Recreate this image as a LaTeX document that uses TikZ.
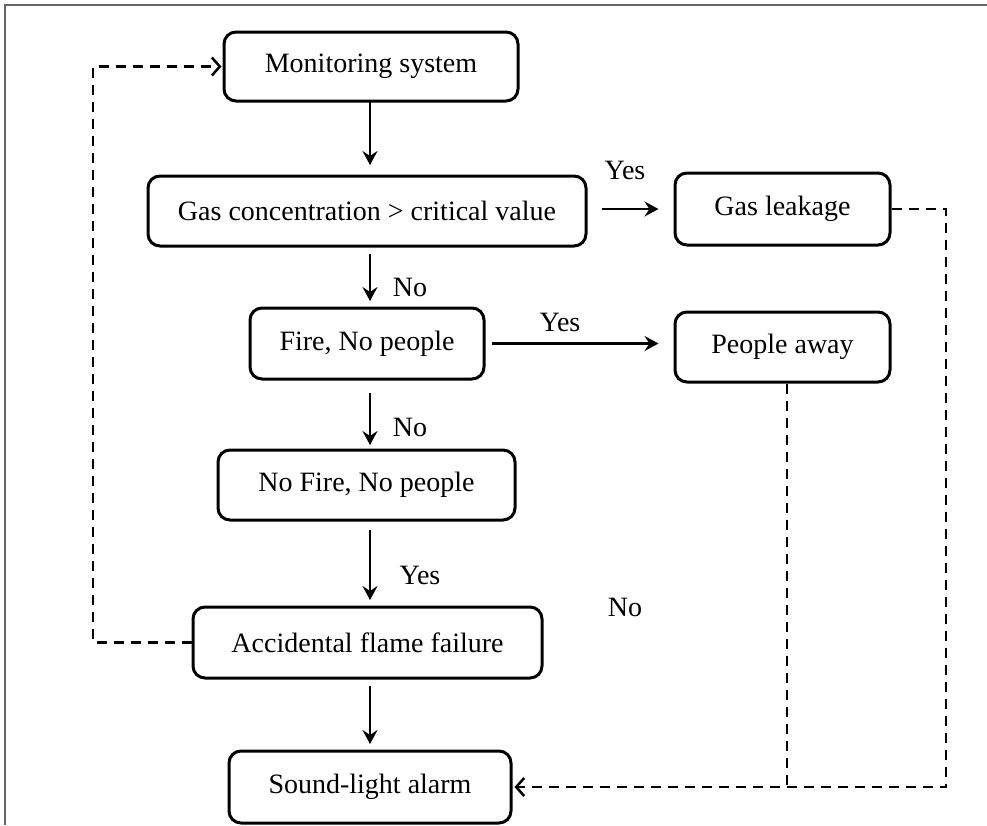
\documentclass[tikz,border=0pt]{standalone}
\usepackage{fontspec}
\setmainfont{Liberation Serif}
\usetikzlibrary{arrows.meta}

\tikzstyle{box}=[draw, line width=3pt, rounded corners=12pt, inner sep=0pt, font=\fontsize{28}{33}\selectfont]
\tikzstyle{lbl}=[inner sep=0pt, font=\fontsize{28}{33}\selectfont]
\tikzstyle{flow}=[line width=2.5pt, -{Stealth[length=14pt,width=15pt,inset=5pt]}, shorten <=8pt, shorten >=7pt]
\tikzstyle{back}=[line width=2.5pt, dash pattern=on 10pt off 7pt]
\tikzstyle{backarrow}=[back, -{Straight Barb[length=8pt,width=18pt]}]

\begin{document}
\begin{tikzpicture}[x=1pt,y=-1pt]

	\useasboundingbox (0,0) rectangle (987,825);
	\draw[black!60, line width=2pt] (5,825) -- (5,5) -- (987,5);

	% main chain
	\node[box, minimum width=294pt, minimum height=69pt] (mon) at (371,66.5) {Monitoring system};
	\node[box, minimum width=438pt, minimum height=70pt] (gas) at (367,211) {Gas concentration > critical value};
	\node[box, minimum width=234pt, minimum height=71pt] (fire) at (367,343.5) {Fire, No people};
	\node[box, minimum width=297pt, minimum height=70pt] (nofire) at (366.5,485) {No Fire, No people};
	\node[box, minimum width=349pt, minimum height=71pt] (acc) at (367.5,642.5) {Accidental flame failure};
	\node[box, minimum width=282pt, minimum height=72pt] (alarm) at (370,787) {Sound-light alarm};

	% right side
	\node[box, minimum width=215pt, minimum height=72pt] (leak) at (782.5,209) {Gas leakage};
	\node[box, minimum width=215pt, minimum height=70pt] (away) at (782.5,347) {People away};

	\def\xm{370}

	\draw[flow, shorten <=0pt, shorten >=11pt] (\xm,101) -- (\xm,176);
	\draw[flow] (\xm,246) -- (\xm,308);
	\draw[flow, shorten <=14pt, shorten >=5pt] (\xm,379) -- (\xm,450);
	\draw[flow, shorten <=10pt] (\xm,520) -- (\xm,607);
	\draw[flow] (\xm,678) -- (\xm,751);

	\draw[flow, shorten <=14pt, shorten >=15pt] (gas.east |- leak.west) -- (leak.west);
	\draw[flow, shorten <=6pt, shorten >=15pt] (fire.east) -- (fire.east -| away.west);

	\node[lbl] (y1) at (625,170) {Yes};
	\node[lbl] (n1) at (410,287) {No};
	\node[lbl] (y2) at (560,322) {Yes};
	\node[lbl] (n2) at (410,427) {No};
	\node[lbl] (y3) at (420,575) {Yes};
	\node[lbl] (n3) at (625,607) {No};

	% dashed returns
	\coordinate (rc) at (946,209);
	\coordinate (lc) at (93,642.5);
	\draw[backarrow, shorten >=2pt] (leak.east) -- (rc) |- (alarm.east);
	\draw[back] ([xshift=4.5pt]away.south) -- ([xshift=4.5pt]away.south |- alarm.east);
	\draw[backarrow, shorten >=1pt] (acc.west) -- (lc) |- (mon.west);

\end{tikzpicture}
\end{document}
